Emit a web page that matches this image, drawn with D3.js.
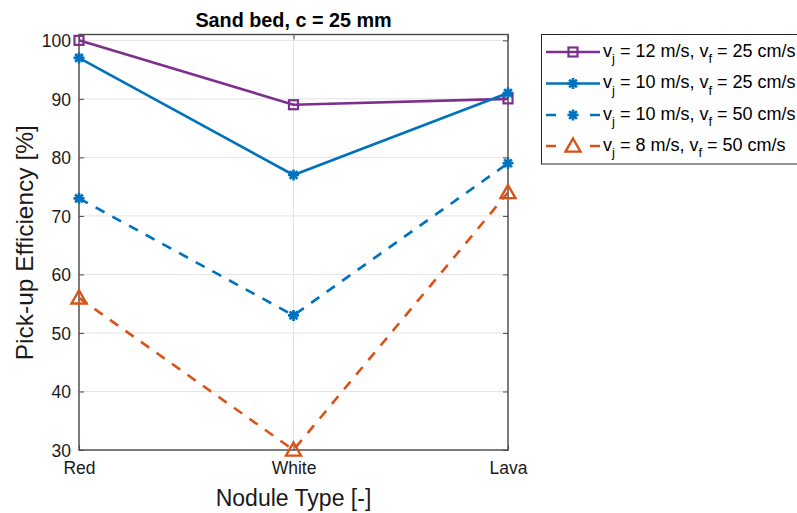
<!DOCTYPE html>
<html><head><meta charset="utf-8">
<script src="https://cdn.jsdelivr.net/npm/d3@7"></script>
<style>body{margin:0;background:#fff;} svg{display:block;font-family:"Liberation Sans",Arial,sans-serif;}</style>
</head><body><svg id="c" width="797" height="513"></svg>
<script>
const categories = ["Red", "White", "Lava"];
const yTicks = [30, 40, 50, 60, 70, 80, 90, 100];
const s1 = [100, 89, 90];   // vj=12, vf=25
const s2 = [97, 77, 91];    // vj=10, vf=25
const s3 = [73, 53, 79];    // vj=10, vf=50
const s4 = [56, 30, 74];    // vj=8, vf=50
const seriesNames = [
  ["12", "25"], ["10", "25"], ["10", "50"], ["8", "50"]
];

const series = [
  {vals: s1, color: "#7E2F8E", dash: null, marker: "square", name: seriesNames[0]},
  {vals: s2, color: "#0072BD", dash: null, marker: "star", name: seriesNames[1]},
  {vals: s3, color: "#0072BD", dash: "10,9", marker: "star", name: seriesNames[2]},
  {vals: s4, color: "#D95319", dash: "10,9", marker: "tri", name: seriesNames[3]}
];

const svg = d3.select("#c");
const L = 79, R = 508, T = 34.5, B = 450;
const x = d3.scalePoint().domain(categories).range([L, R]);
const y = d3.scaleLinear().domain([30, 101]).range([B, T]);

// grid
const g = svg.append("g");
g.selectAll(".gy").data(yTicks).join("line")
  .attr("x1", L).attr("x2", R).attr("y1", d => y(d)).attr("y2", d => y(d))
  .attr("stroke", "#e3e3e3").attr("stroke-width", 1);
g.selectAll(".gx").data(categories).join("line")
  .attr("x1", d => x(d)).attr("x2", d => x(d)).attr("y1", T).attr("y2", B)
  .attr("stroke", "#e3e3e3").attr("stroke-width", 1);

// axes
const axCol = "#4a4a4a";
const yAxis = svg.append("g").attr("transform", `translate(${L},0)`)
  .call(d3.axisLeft(y).tickValues(yTicks).tickSize(-5).tickPadding(8));
const yAxisR = svg.append("g").attr("transform", `translate(${R},0)`)
  .call(d3.axisRight(y).tickValues(yTicks).tickSize(-5).tickFormat(""));
const xAxis = svg.append("g").attr("transform", `translate(0,${B})`)
  .call(d3.axisBottom(x).tickSize(-5).tickPadding(10));
const xAxisT = svg.append("g").attr("transform", `translate(0,${T})`)
  .call(d3.axisTop(x).tickSize(-5).tickFormat(""));
[yAxis, yAxisR, xAxis, xAxisT].forEach(a => {
  a.select(".domain").remove();
  a.selectAll("line").attr("stroke", axCol).attr("stroke-width", 1);
  a.selectAll("text").attr("fill", "#1a1a1a").style("font-size", "17.5px")
   .style("font-family", "Liberation Sans, Arial, sans-serif");
});
yAxis.selectAll("text").attr("dy", "0.36em");
xAxis.selectAll("text").attr("dy", "0.82em");
svg.append("rect").attr("x", L).attr("y", T).attr("width", R - L).attr("height", B - T)
  .attr("fill", "none").attr("stroke", axCol).attr("stroke-width", 1.4);

// markers
function drawMarker(sel, type, cx, cy, color) {
  if (type === "square") {
    sel.append("rect").attr("x", cx - 4.5).attr("y", cy - 4.5).attr("width", 9).attr("height", 9)
      .attr("fill", "none").attr("stroke", color).attr("stroke-width", 2.2);
  } else if (type === "star") {
    const r = 5.5;
    const p = [];
    for (let k = 0; k < 4; k++) {
      const a = k * Math.PI / 4;
      p.push(`M${cx - r * Math.cos(a)},${cy - r * Math.sin(a)}L${cx + r * Math.cos(a)},${cy + r * Math.sin(a)}`);
    }
    sel.append("path").attr("d", p.join("")).attr("stroke", color).attr("stroke-width", 2.6).attr("fill", "none");
  } else if (type === "tri") {
    const s = 7.5;
    sel.append("path").attr("d", `M${cx},${cy - s}L${cx + s},${cy + s * 0.75}L${cx - s},${cy + s * 0.75}Z`)
      .attr("fill", "none").attr("stroke", color).attr("stroke-width", 2.4);
  }
}

const line = d3.line().x((d, i) => x(categories[i])).y(d => y(d));
series.forEach(s => {
  const sg = svg.append("g");
  sg.append("path").datum(s.vals).attr("d", line).attr("fill", "none")
    .attr("stroke", s.color).attr("stroke-width", 2.6)
    .attr("stroke-dasharray", s.dash);
  s.vals.forEach((v, i) => drawMarker(sg, s.marker, x(categories[i]), y(v), s.color));
});

// title & labels
svg.append("text").attr("x", (L + R) / 2).attr("y", 26.5).attr("text-anchor", "middle")
  .style("font-size", "19.8px").style("font-weight", "bold").attr("fill", "#000")
  .text("Sand bed, c = 25 mm");
svg.append("text").attr("x", (L + R) / 2).attr("y", 506).attr("text-anchor", "middle")
  .style("font-size", "23px").attr("fill", "#1a1a1a").text("Nodule Type [-]");
svg.append("text").attr("transform", `translate(33,${(T + B) / 2 + 0.5}) rotate(-90)`)
  .attr("text-anchor", "middle").style("font-size", "24.5px").attr("fill", "#1a1a1a")
  .text("Pick-up Efficiency [%]");

// legend
const lg = svg.append("g");
lg.append("rect").attr("x", 541.5).attr("y", 34.5).attr("width", 270).attr("height", 129.5)
  .attr("fill", "#fff").attr("stroke", "#262626").attr("stroke-width", 1);
const rowY = [52, 83.5, 115, 146];
series.forEach((s, i) => {
  const yy = rowY[i];
  lg.append("line").attr("x1", 546).attr("x2", 600).attr("y1", yy).attr("y2", yy)
    .attr("stroke", s.color).attr("stroke-width", 2.6)
    .attr("stroke-dasharray", s.dash ? "10,34" : null);
  drawMarker(lg, s.marker, 573, yy, s.color);
  const t = lg.append("text").attr("x", 603).attr("y", yy + 4.5).style("font-size", "18px").attr("fill", "#000");
  t.append("tspan").text("v");
  t.append("tspan").attr("dy", 6.5).style("font-size", "13px").text("j");
  t.append("tspan").attr("dy", -6.5).text(` = ${s.name[0]} m/s, v`);
  t.append("tspan").attr("dy", 6.5).style("font-size", "13px").text("f");
  t.append("tspan").attr("dy", -6.5).text(` = ${s.name[1]} cm/s`);
});
</script></body></html>
